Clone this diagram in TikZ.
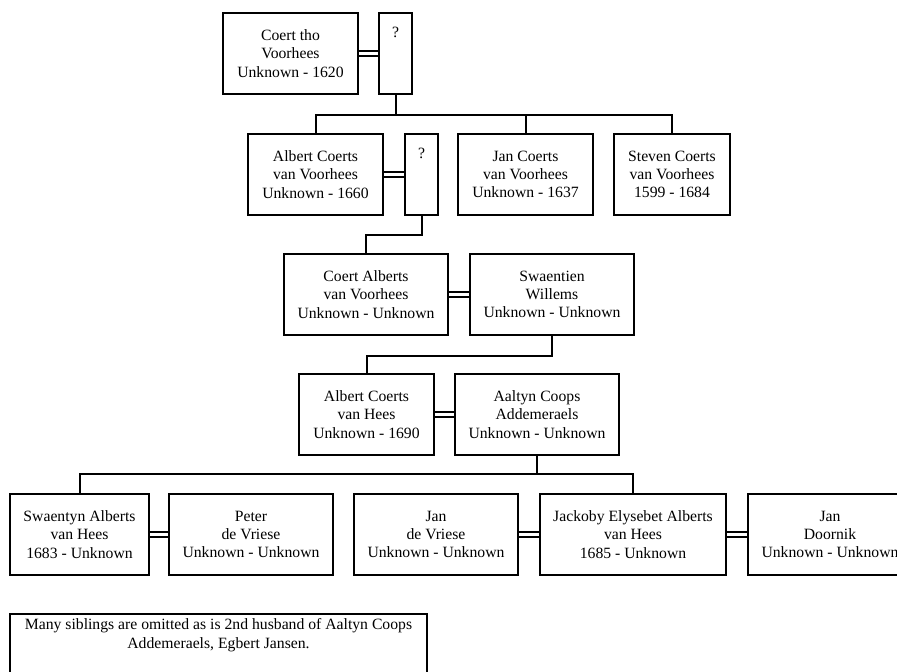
\documentclass[tikz,border=0pt]{standalone}
\usepackage{fontspec}
\setmainfont{Liberation Serif}
\usetikzlibrary{positioning}
\tikzset{
	fambox/.style={
		draw,
		line width=2pt,
		align=center,
		minimum height=81pt,
		inner sep=2pt,
		font=\fontsize{15.7}{18.3}\selectfont
	},
	famPerson/.style={fambox, minimum width=135pt},
	famWide/.style={fambox, minimum width=164pt},
	famUnknown/.style={fambox, minimum width=33pt},
	famNote/.style={fambox, minimum width=417pt},
	famMarriage/.style={double, line width=1.5pt, double distance=3.4pt},
	famDescent/.style={line width=2pt}
}
\begin{document}
\begin{tikzpicture}[x=1pt, y=-1pt]

			\useasboundingbox (0,0) rectangle (897,672);

			% First generation
			\node[famPerson, anchor=north west] (coert) at (222,12)
			{Coert tho\\Voorhees\\Unknown - 1620};
			\node[famUnknown, right=19pt of coert] (wifeA) {?\\\strut\\\strut};

			% Second generation
			\node[famPerson, anchor=north west] (albert) at (247,133)
			{Albert Coerts\\van Voorhees\\Unknown - 1660};
			\node[famUnknown, right=20pt of albert] (wifeB) {?\\\strut\\\strut};
			\node[famPerson, right=18pt of wifeB] (janC)
			{Jan Coerts\\van Voorhees\\Unknown - 1637};
			\node[famPerson, minimum width=116pt, right=19pt of janC] (steven)
			{Steven Coerts\\van Voorhees\\1599 - 1684};

			% Third generation
			\node[famWide, anchor=north west] (coertA) at (283,253)
			{Coert Alberts\\van Voorhees\\Unknown - Unknown};
			\node[famWide, right=20pt of coertA] (swaentien)
			{Swaentien\\Willems\\Unknown - Unknown};

			% Fourth generation
			\node[famPerson, anchor=north west] (albertH) at (298,373)
			{Albert Coerts\\van Hees\\Unknown - 1690};
			\node[famWide, right=19pt of albertH] (aaltyn)
			{Aaltyn Coops\\Addemeraels\\Unknown - Unknown};

			% Fifth generation
			\node[famPerson, minimum width=139pt, anchor=north west] (swaentyn) at (9,493)
			{Swaentyn Alberts\\van Hees\\1683 - Unknown};
			\node[famWide, right=18pt of swaentyn] (peter)
			{Peter\\de Vriese\\Unknown - Unknown};
			\node[famWide, right=19pt of peter] (janV)
			{Jan\\de Vriese\\Unknown - Unknown};
			\node[famPerson, minimum width=186pt, right=20pt of janV] (jackoby)
			{Jackoby Elysebet Alberts\\van Hees\\1685 - Unknown};
			\node[famWide, right=20pt of jackoby] (doornik)
			{Jan\\Doornik\\Unknown - Unknown};

			% Note
			\node[famNote, anchor=north west] (note) at (9,613)
			{Many siblings are omitted as is 2nd husband of Aaltyn Coops\\
				Addemeraels, Egbert Jansen.\\\strut\\\strut};

			% Marriages
			\draw[famMarriage] (coert) -- (wifeA);
			\draw[famMarriage] (albert) -- (wifeB);
			\draw[famMarriage] (coertA) -- (swaentien);
			\draw[famMarriage] (albertH) -- (aaltyn);
			\draw[famMarriage] (swaentyn) -- (peter);
			\draw[famMarriage] (janV) -- (jackoby);
			\draw[famMarriage] (jackoby) -- (doornik);

			% Children
			\coordinate[below=20pt of wifeA.south] (kidsA);
			\draw[famDescent] (wifeA) -- (kidsA);
			\draw[famDescent] (kidsA) -| (albert);
			\draw[famDescent] (kidsA) -| (janC);
			\draw[famDescent] (kidsA) -| (steven);

			\coordinate[below=19pt of wifeB.south] (kidsB);
			\draw[famDescent] (wifeB) -- (kidsB) -| (coertA);

			\coordinate[below=20pt of swaentien.south] (kidsC);
			\draw[famDescent] (swaentien) -- (kidsC) -| (albertH);

			\coordinate[below=18pt of aaltyn.south] (kidsD);
			\draw[famDescent] (aaltyn) -- (kidsD);
			\draw[famDescent] (kidsD) -| (swaentyn);
			\draw[famDescent] (kidsD) -| (jackoby);

		\end{tikzpicture}
\end{document}
